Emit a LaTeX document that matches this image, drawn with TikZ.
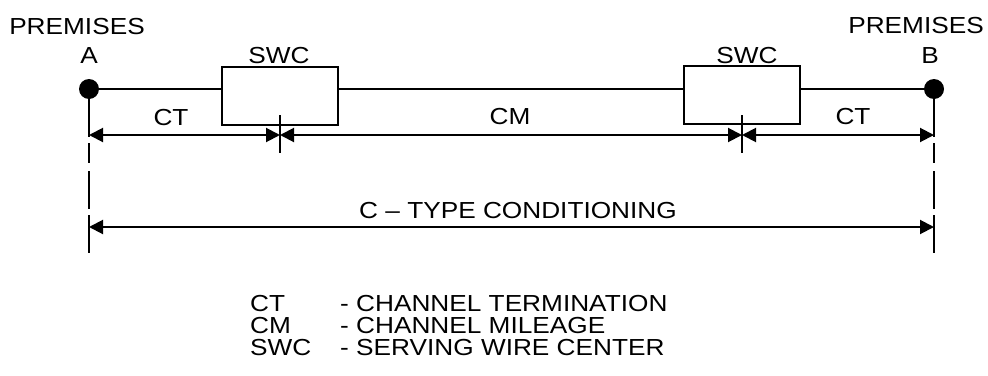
\documentclass[tikz,border=0pt]{standalone}
\usepackage{fontspec}
\setmainfont{Liberation Sans}
\usetikzlibrary{arrows.meta, positioning, calc}

% labels in the source are a little wider than Arial
\newcommand{\wide}[1]{\scalebox{1.13}[1]{#1}}

\begin{document}
\begin{tikzpicture}[
    x=1pt, y=-1pt,
    lbl/.style={font=\fontsize{23.2}{26}\selectfont, inner sep=0pt, anchor=base},
    key/.style={lbl, anchor=base west},
    dot/.style={circle, fill, inner sep=0pt, minimum size=20pt},
    swc/.style={draw, line width=2pt, minimum width=116pt, minimum height=58pt, inner sep=0pt},
    wire/.style={line width=2pt},
    dim/.style={{Triangle[length=14pt,width=14pt]}-{Triangle[length=14pt,width=14pt]}, line width=2pt},
    ext/.style={line width=2pt, dash pattern=on 20pt off 8pt on 38pt off 6pt on 38pt}
]
    \useasboundingbox (0,0) rectangle (988,375);

    % premises and serving wire centers
    \node[dot] (premA) at (89,89) {};
    \node[dot] (premB) at (934,89) {};
    \node[swc] (swcA) at (280,96) {};
    \node[swc] (swcB) at (742,95) {};

    \node[lbl] (pA) at (77,34) {\wide{PREMISES}};
    \node[lbl] (lA) at (89,63) {\wide{A}};
    \node[lbl] (pB) at (916,33) {\wide{PREMISES}};
    \node[lbl] (lB) at (930,63) {\wide{B}};
    \node[lbl] (sA) at (279,63) {\wide{SWC}};
    \node[lbl] (sB) at (747,63) {\wide{SWC}};

    % the channel
    \draw[wire] (premA) -- (premA -| swcA.west);
    \draw[wire] (premA -| swcA.east) -- (premA -| swcB.west);
    \draw[wire] (premA -| swcB.east) -- (premB);

    % dimension points
    \coordinate (dA) at (89,135);
    \coordinate (dX) at (280,135);
    \coordinate (dY) at (742,135);
    \coordinate (dB) at (934,135);
    \coordinate (cA) at (89,227);
    \coordinate (cB) at (934,227);

    % extension lines and ticks
    \draw[wire] (premA) -- ($(dA)+(0,2)$);
    \draw[wire] (premB) -- ($(dB)+(0,2)$);
    \draw[ext] ($(dA)+(0,8)$) -- ($(cA)+(0,26)$);
    \draw[ext] ($(dB)+(0,8)$) -- ($(cB)+(0,26)$);
    \draw[wire] ($(dX)+(0,-20)$) -- ($(dX)+(0,18)$);
    \draw[wire] ($(dY)+(0,-20)$) -- ($(dY)+(0,18)$);

    \draw[dim] (dA) -- (dX);
    \draw[dim] (dX) -- (dY);
    \draw[dim] (dY) -- (dB);
    \draw[dim] (cA) -- (cB);

    \node[lbl] (ct1) at (171,125) {\wide{CT}};
    \node[lbl] (cm) at (510,124) {\wide{CM}};
    \node[lbl] (ct2) at (853,124) {\wide{CT}};
    \node[lbl] (ctype) at (518,218) {\wide{C – TYPE CONDITIONING}};

    % legend
    \node[key] (k1) at (250,311) {\wide{CT}};
    \node[key] (k2) at (250,333) {\wide{CM}};
    \node[key] (k3) at (250,355) {\wide{SWC}};
    \node[key] (d1) at (340,311) {\wide{- CHANNEL TERMINATION}};
    \node[key] (d2) at (340,333) {\wide{- CHANNEL MILEAGE}};
    \node[key] (d3) at (340,355) {\wide{- SERVING WIRE CENTER}};
\end{tikzpicture}
\end{document}
